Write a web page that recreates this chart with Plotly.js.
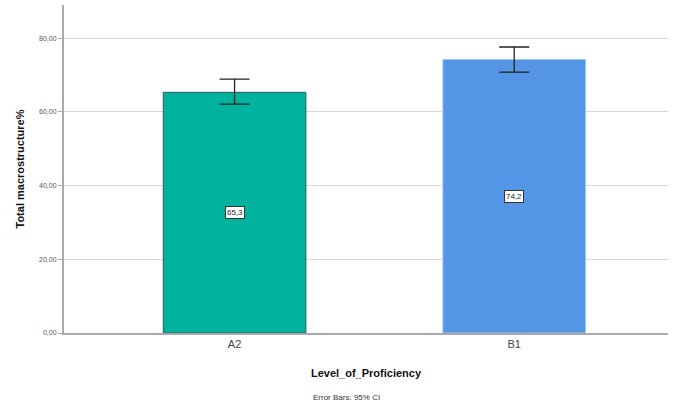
<!DOCTYPE html>
<html>
<head>
<meta charset="utf-8">
<script src="https://cdn.plot.ly/plotly-3.0.1.min.js"></script>
<style>html,body{margin:0;padding:0;background:#fff;}#chart{width:678px;height:405px;}</style>
</head>
<body>
<div id="chart"></div>
<script>
const categories = ["A2", "B1"];
const means = [65.3, 74.2];
const ciUpper = [68.9, 77.6];
const ciLower = [62.1, 70.8];
const barLabels = ["65,3", "74,2"];
const barColors = ["#00b39f", "#5595e5"];
const lineColors = ["#2a5a52", "#9cc3f2"];

const trace = {
  type: "bar",
  x: categories,
  y: means,
  width: 0.51,
  marker: { color: barColors, line: { color: lineColors, width: 1 } },
  error_y: {
    type: "data",
    symmetric: false,
    array: means.map((m, i) => ciUpper[i] - m),
    arrayminus: means.map((m, i) => m - ciLower[i]),
    color: "#222",
    thickness: 1.3,
    width: 15
  },
  hoverinfo: "none"
};

const annotations = categories.map((c, i) => ({
  x: c, y: means[i] / 2, text: barLabels[i], showarrow: false,
  font: { family: "Liberation Sans, Arial", size: 8, color: "#222" },
  bgcolor: "#ffffff", bordercolor: "#333", borderwidth: 1, borderpad: 1
}));
annotations.push({
  xref: "paper", yref: "paper", x: (346 - 64) / 604, y: -64 / 328,
  yanchor: "middle",
  text: "Error Bars: 95% CI", showarrow: false,
  font: { family: "Liberation Sans, Arial", size: 8, color: "#333" }
});

const layout = {
  width: 678, height: 405,
  margin: { l: 64, r: 10, t: 5, b: 72 },
  paper_bgcolor: "#fff", plot_bgcolor: "#fff",
  separators: ",.",
  showlegend: false,
  xaxis: {
    type: "category",
    range: [-0.61, 1.55],
    showgrid: false,
    showline: true, linecolor: "#aaa", linewidth: 2,
    ticks: "",
    tickfont: { family: "Liberation Sans, Arial", size: 11, color: "#444" },
    title: { text: "<b>Level_of_Proficiency</b>", standoff: 20,
      font: { family: "Liberation Sans, Arial", size: 11, color: "#111" } }
  },
  yaxis: {
    range: [0, 89],
    tickvals: [0, 20, 40, 60, 80],
    tickformat: ".2f",
    showgrid: true, gridcolor: "#d8d8d8", gridwidth: 1,
    zeroline: false,
    showline: true, linecolor: "#aaa", linewidth: 2,
    ticks: "outside", ticklen: 4, tickcolor: "#aaa",
    tickfont: { family: "Liberation Sans, Arial", size: 7, color: "#555" },
    title: { text: "<b>Total macrostructure%</b>", standoff: 12,
      font: { family: "Liberation Sans, Arial", size: 11, color: "#111" } }
  },
  annotations: annotations
};

Plotly.newPlot("chart", [trace], layout, { displayModeBar: false, staticPlot: true });
</script>
</body>
</html>
